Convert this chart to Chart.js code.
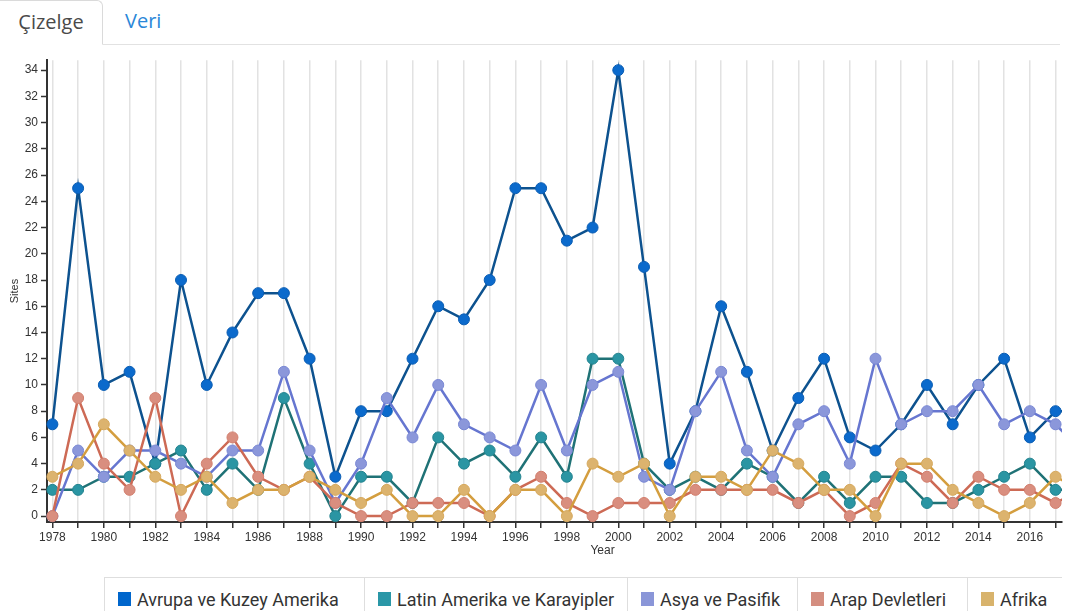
<!DOCTYPE html>
<html>
<head>
<meta charset="utf-8">
<script src="https://cdn.jsdelivr.net/npm/chart.js@4/dist/chart.umd.min.js"></script>
<style>
html, body { margin: 0; padding: 0; background: #fff; overflow: hidden; }
body { width: 1084px; height: 611px; position: relative; font-family: "Open Sans", sans-serif; }
.tabs { position: absolute; left: 0; top: 0; width: 1060px; height: 44px; border-bottom: 1px solid #e2e2e2; }
.tab { position: absolute; top: 0; font-size: 20px; line-height: 42px; }
.tab.active { left: -1px; width: 104px; height: 45px; box-sizing: border-box; border: 1px solid #dadada; border-bottom: 1px solid #fff; border-radius: 0 6px 0 0; background: #fff; color: #4a4a4a; text-align: center; }
.tab.other { left: 125px; color: #2a87d8; }
#wrap { position: absolute; left: 0; top: 50px; width: 1084px; height: 520px; }
.legend { position: absolute; left: 104px; top: 577px; height: 40px; display: flex; border-top: 1px solid #dedede; font-family: Roboto, sans-serif; font-size: 18px; color: #333; }
.legend .item { box-sizing: border-box; height: 42px; display: flex; align-items: center; padding-left: 13px; border-left: 1px solid #dedede; white-space: nowrap; }
.legend .sw { width: 13px; height: 14px; margin-right: 6px; }
</style>
</head>
<body>
<div class="tabs">
  <div class="tab active">Çizelge</div>
  <div class="tab other">Veri</div>
</div>
<div id="wrap"><canvas id="chart"></canvas></div>
<div class="legend" id="legend"></div>

<script>
// Chart data
const years = [1978, 1979, 1980, 1981, 1982, 1983, 1984, 1985, 1986, 1987,
               1988, 1989, 1990, 1991, 1992, 1993, 1994, 1995, 1996, 1997,
               1998, 1999, 2000, 2001, 2002, 2003, 2004, 2005, 2006, 2007,
               2008, 2009, 2010, 2011, 2012, 2013, 2014, 2015, 2016, 2017, 2018];

const avrupa = [7, 25, 10, 11, 4, 18, 10, 14, 17, 17,
                12, 3, 8, 8, 12, 16, 15, 18, 25, 25,
                21, 22, 34, 19, 4, 8, 16, 11, 5, 9,
                12, 6, 5, 7, 10, 7, 10, 12, 6, 8, 8];
const latin  = [2, 2, 3, 3, 4, 5, 2, 4, 2, 9,
                4, 0, 3, 3, 1, 6, 4, 5, 3, 6,
                3, 12, 12, 4, 2, 3, 2, 4, 3, 1,
                3, 1, 3, 3, 1, 1, 2, 3, 4, 2, 2];
const asya   = [0, 5, 3, 5, 5, 4, 3, 5, 5, 11,
                5, 1, 4, 9, 6, 10, 7, 6, 5, 10,
                5, 10, 11, 3, 2, 8, 11, 5, 3, 7,
                8, 4, 12, 7, 8, 8, 10, 7, 8, 7, 5];
const arap   = [0, 9, 4, 2, 9, 0, 4, 6, 3, 2,
                3, 1, 0, 0, 1, 1, 1, 0, 2, 3,
                1, 0, 1, 1, 1, 2, 2, 2, 2, 1,
                2, 0, 1, 4, 3, 1, 3, 2, 2, 1, 2];
const afrika = [3, 4, 7, 5, 3, 2, 3, 1, 2, 2,
                3, 2, 1, 2, 0, 0, 2, 0, 2, 2,
                0, 4, 3, 4, 0, 3, 3, 2, 5, 4,
                2, 2, 0, 4, 4, 2, 1, 0, 1, 3, 2];

const seriesNames = ['Avrupa ve Kuzey Amerika', 'Latin Amerika ve Karayipler', 'Asya ve Pasifik', 'Arap Devletleri', 'Afrika'];
const seriesData  = [avrupa, latin, asya, arap, afrika];

const yTicks = [0, 2, 4, 6, 8, 10, 12, 14, 16, 18, 20, 22, 24, 26, 28, 30, 32, 34];

// Styles
const lineColors   = ['#0d528f', '#1f7276', '#6676d0', '#cd6a55', '#d49e3f'];
const pointColors  = ['#0b6acc', '#2a95a3', '#8b97da', '#d98e7f', '#dcb36e'];
const pointBorders = ['#0a5db3', '#23838f', '#7a88d4', '#d27f6e', '#d6a95e'];
const swatchColors = ['#0066cc', '#2a97a7', '#8a96d8', '#d48e80', '#d8b36c'];
const legendWidths = [260, 263, 170, 170, 95];

const tickFont = { family: '"Liberation Sans", Arial, sans-serif', size: 12 };

let datasets = seriesData.map( function( values, i ) {
    return {
        label: seriesNames[ i ],
        data: values.map( function( v, j ) { return { x: years[ j ], y: v }; } ),
        borderColor: lineColors[ i ],
        borderWidth: 2.5,
        pointRadius: 5.5,
        pointBorderWidth: 1,
        pointBackgroundColor: pointColors[ i ],
        pointBorderColor: pointBorders[ i ],
        tension: 0,
        order: seriesNames.length - i,
        clip: { left: 8, top: 8, right: 0, bottom: 8 }
    };
});

/**
 * X axis title. The original plot runs wider than the window, so its
 * title sits right of the visible centre; draw it there by hand.
 */
const yearTitle = {
    id: 'yearTitle',
    afterDraw: function( chart ) {
        let ctx   = chart.ctx;
        let scale = chart.scales.x;
        ctx.save();
        ctx.font = '12px ' + tickFont.family;
        ctx.fillStyle = '#333';
        ctx.textAlign = 'center';
        ctx.textBaseline = 'middle';
        ctx.fillText( 'Year', ( scale.left + scale.right ) / 2 + 48, scale.bottom - 19 );
        ctx.restore();
    }
};

new Chart( document.getElementById( 'chart' ), {
    type: 'line',
    data: { datasets: datasets },
    plugins: [ yearTitle ],
    options: {
        responsive: true,
        maintainAspectRatio: false,
        animation: false,
        layout: { padding: { top: 8, right: 22, left: 0, bottom: 0 } },
        plugins: { legend: { display: false }, tooltip: { enabled: false } },
        scales: {
            x: {
                type: 'linear',
                min: 1977.79,
                max: 2017.25,
                afterBuildTicks: function( axis ) {
                    axis.ticks = years.filter( function( y ) { return y <= 2017; } ).map( function( y ) { return { value: y }; } );
                },
                afterFit: function( axis ) { axis.height = 48; },
                ticks: {
                    autoSkip: false,
                    maxRotation: 0,
                    padding: 2,
                    color: '#333',
                    font: tickFont,
                    callback: function( value ) { return value % 2 === 0 ? String( value ) : ''; }
                },
                grid: { color: '#e2e2e2', lineWidth: 1.5, tickColor: '#333', tickLength: 6, tickWidth: 1.5 },
                border: { display: true, color: '#333', width: 2 }
            },
            y: {
                type: 'linear',
                min: -0.45,
                max: 34.76,
                afterBuildTicks: function( axis ) {
                    axis.ticks = yTicks.map( function( v ) { return { value: v }; } );
                },
                afterFit: function( axis ) { axis.width = 47; },
                ticks: { padding: 3, color: '#333', font: tickFont },
                grid: { drawOnChartArea: false, tickColor: '#333', tickLength: 6, tickWidth: 1.5 },
                border: { display: true, color: '#333', width: 2 },
                title: { display: true, text: 'Sites', color: '#333', font: { family: tickFont.family, size: 11 }, padding: { top: 8, bottom: 0 } }
            }
        }
    }
});

// HTML legend built from the series names
let legend = document.getElementById( 'legend' );
seriesNames.forEach( function( name, i ) {
    let item = document.createElement( 'div' );
    item.className = 'item';
    item.style.width = legendWidths[ i ] + 'px';
    item.innerHTML = '<span class="sw" style="background:' + swatchColors[ i ] + '"></span>' + name;
    legend.appendChild( item );
});
</script>
</body>
</html>
